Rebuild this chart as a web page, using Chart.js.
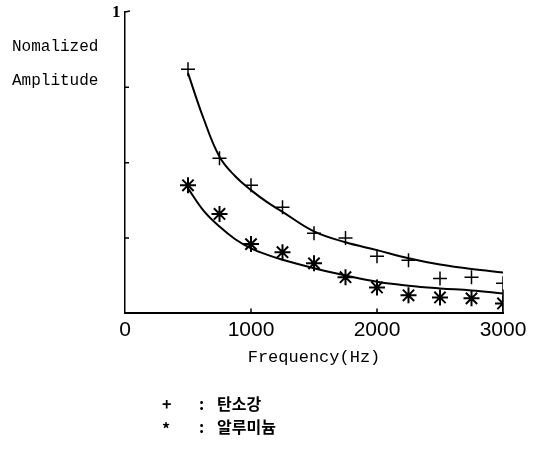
<!DOCTYPE html>
<html>
<head>
<meta charset="utf-8">
<script src="https://cdn.jsdelivr.net/npm/chart.js@4"></script>
<style>
    html, body { margin: 0; padding: 0; background: #fff; }
    #wrap { position: relative; width: 540px; height: 449px; }
    #chart { position: absolute; left: 0; top: 0; }
    .lbl { position: absolute; color: #000; white-space: pre; }
    .mono { font-family: "Liberation Mono", "DejaVu Sans Mono", monospace; font-size: 16px; }
    .kr { font-family: "Noto Sans CJK KR", sans-serif; font-weight: bold; font-size: 16px; }
</style>
</head>
<body>
<div id="wrap">
    <canvas id="chart" width="540" height="449"></canvas>
    <div class="lbl" style="left:112px; top:2px; font-family:'Liberation Serif',serif; font-weight:bold; font-size:17px;">1</div>
    <div class="lbl mono" style="left:12px; top:38px;">Nomalized</div>
    <div class="lbl mono" style="left:12px; top:72px;">Amplitude</div>
    <div class="lbl kr" style="left:162px; top:391px;">+</div>
    <div class="lbl kr" style="left:199px; top:391px;">:</div>
    <div class="lbl kr" style="left:217px; top:391px;">탄소강</div>
    <div class="lbl kr" style="left:162px; top:416px;">*</div>
    <div class="lbl kr" style="left:199px; top:414px;">:</div>
    <div class="lbl kr" style="left:217px; top:414px;">알루미늄</div>
</div>
<script>
// measured points
const freqs = [500, 750, 1000, 1250, 1500, 1750, 2000, 2250, 2500, 2750, 3000];
const carbonSteel = [0.81, 0.515, 0.425, 0.352, 0.266, 0.25, 0.19, 0.176, 0.116, 0.12, 0.10];
const aluminum = [0.425, 0.33, 0.23, 0.203, 0.166, 0.12, 0.086, 0.06, 0.053, 0.05, 0.033];

// fitted curves
const fitFreqs = [500, 625, 750, 875, 1000, 1125, 1250, 1500, 1750, 2000, 2250, 2500, 2750, 3000];
const carbonFit = [0.797, 0.645, 0.52, 0.455, 0.409, 0.37, 0.337, 0.272, 0.236, 0.21, 0.183, 0.162, 0.147, 0.136];
const aluminumFit = [0.415, 0.34, 0.288, 0.246, 0.216, 0.195, 0.178, 0.15, 0.126, 0.105, 0.092, 0.083, 0.076, 0.066];

const xTicks = [0, 1000, 2000, 3000];
const yTicks = [0.25, 0.5, 0.75];

const toPoints = (xs, ys) => xs.map((x, i) => ({ x, y: ys[i] }));

// short inward tick marks like the original plot
const innerTicks = {
    id: 'innerTicks',
    afterDraw(chart) {
        const ctx = chart.ctx;
        const x = chart.scales.x;
        const y = chart.scales.y;
        const area = chart.chartArea;
        ctx.save();
        ctx.strokeStyle = '#000';
        ctx.lineWidth = 1.5;
        ctx.beginPath();
        yTicks.forEach(v => {
            const py = y.getPixelForValue(v);
            ctx.moveTo(area.left, py);
            ctx.lineTo(area.left + 4, py);
        });
        ctx.moveTo(area.left, y.getPixelForValue(1));
        ctx.lineTo(area.left + 5, y.getPixelForValue(1) - 1);
        xTicks.slice(1).forEach(v => {
            const px = x.getPixelForValue(v);
            ctx.moveTo(px, area.bottom);
            ctx.lineTo(px, area.bottom - (v === 3000 ? 24 : 5));
        });
        ctx.stroke();
        ctx.restore();
    }
};

const fitLine = (label, values) => ({
    type: 'line',
    label,
    data: toPoints(fitFreqs, values),
    borderColor: '#000',
    borderWidth: 2,
    pointRadius: 0,
    tension: 0.4,
    fill: false
});

const ctx = document.getElementById('chart').getContext('2d');
new Chart(ctx, {
    type: 'scatter',
    data: {
        datasets: [
            {
                label: '탄소강',
                data: toPoints(freqs, carbonSteel),
                pointStyle: 'cross',
                pointRadius: 7,
                borderColor: '#000',
                borderWidth: 1.5
            },
            {
                label: '알루미늄',
                data: toPoints(freqs, aluminum),
                pointStyle: 'star',
                pointRadius: 8,
                borderColor: '#000',
                borderWidth: 2
            },
            fitLine('fit1', carbonFit),
            fitLine('fit2', aluminumFit)
        ]
    },
    options: {
        responsive: false,
        animation: false,
        layout: {
            padding: { left: 0, top: 12, right: 37, bottom: 81 }
        },
        plugins: {
            legend: { display: false },
            tooltip: { enabled: false }
        },
        scales: {
            x: {
                type: 'linear',
                min: 0,
                max: 3000,
                afterBuildTicks: scale => {
                    scale.ticks = xTicks.map(v => ({ value: v }));
                },
                grid: { display: false, drawTicks: false },
                border: { display: true, color: '#000', width: 2 },
                ticks: {
                    color: '#000',
                    padding: 4,
                    callback: v => String(v),
                    font: { family: 'Liberation Sans, Arial, sans-serif', size: 21 }
                },
                title: {
                    display: true,
                    text: 'Frequency(Hz)',
                    color: '#000',
                    padding: { top: 1, bottom: 0 },
                    font: { family: 'Liberation Mono, DejaVu Sans Mono, monospace', size: 17 }
                }
            },
            y: {
                min: 0,
                max: 1,
                afterFit: scale => { scale.width = 125; },
                grid: { display: false, drawTicks: false },
                border: { display: true, color: '#000', width: 1.5 },
                ticks: { display: false }
            }
        }
    },
    plugins: [innerTicks]
});
</script>
</body>
</html>
